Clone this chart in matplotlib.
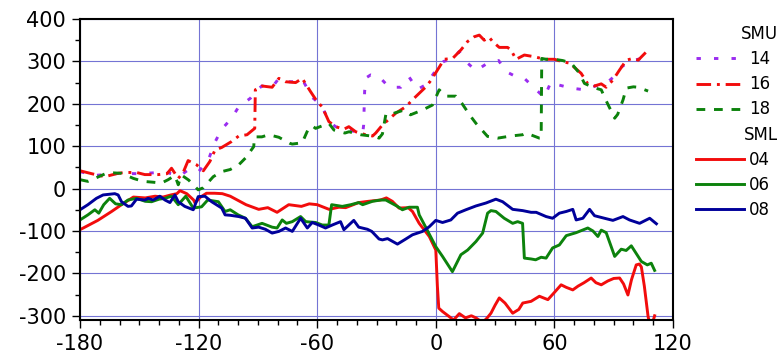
import matplotlib
matplotlib.use("Agg")
import matplotlib.pyplot as plt
from matplotlib.lines import Line2D
from matplotlib.ticker import MultipleLocator

plt.rcParams['font.family'] = ['DejaVu Sans']
plt.rcParams['axes.unicode_minus'] = False

# ---- data ----
# SMU 14 (purple dotted)
smu14_x = [-180, -172.5, -160, -150, -140, -136, -130, -128, -125, -120, -115, -112, -108.3, -103.3,
           -99.7, -93.8, -91, -88, -82.8, -79.4, -76, -72.6, -67.6, -62.5, -60, -57.5, -54, -50.7,
           -46.5, -40.5, -37, -36.5, -36, -35, -33, -30.5, -28.7, -23.6, -17.7, -13.5, -9.3, -5,
           -2.5, 0.8, 4, 8, 11.8, 16.1, 20.3, 26.2, 31.8, 35.5, 40.6, 44.8, 49.9, 54.9, 58.3, 62.5,
           68.5, 75.2, 82, 86.2, 89.6, 93, 98, 104, 106]
smu14_y = [40, 31, 36, 35, 38, 38, 30, 35, 45, 40, 68, 107, 140, 166,
           193, 213, 230, 242, 239, 260, 252, 252, 258, 215, 205, 193, 158, 146,
           140, 134, 130, 150, 230, 262, 268, 265, 264, 239, 239, 263, 234, 245,
           262, 284, 300, 305, 323, 296, 278, 296, 302, 276, 264, 260, 237, 215, 252, 244,
           237, 233, 244, 248, 262, 284, 300, 307, 315]

# SMU 16 (red dash-dot)
smu16_x = [-180, -174, -167.5, -160.7, -157.3, -151.4, -147.2, -140.4, -136, -133.7, -130.3, -127.8,
           -125.3, -121, -117.6, -114.3, -111.7, -108.3, -103.3, -99.7, -95.5, -91.6, -91.3, -87.9,
           -82.8, -79.4, -76, -70.9, -67.6, -63.4, -60, -57.5, -54.1, -50.7, -46.5, -44, -40.5,
           -35.5, -32, -30.4, -27, -20.2, -15.2, -11, -5, -2.5, 1.7, 4.2, 8.5, 12.7, 16.1, 19.4,
           22, 24.5, 27, 28.7, 32.1, 36.3, 38, 40.6, 44.8, 49.9, 55, 60, 64.2, 67.6, 69.3, 73.5,
           76.9, 80.3, 83.7, 86.2, 89.6, 93, 96.4, 99.8, 102.4, 106.2]
smu16_y = [42, 35, 28, 36, 38, 38, 33, 33, 35, 48, 24, 38,
           66, 56, 42, 64, 91, 97, 111, 124, 127, 142, 233, 242,
           239, 260, 252, 250, 260, 229, 205, 193, 158, 146, 140, 146, 134,
           127, 124, 131, 150, 178, 193, 213, 240, 255, 286, 305, 307, 327, 347, 358,
           362, 350, 357, 347, 333, 333, 327, 305, 315, 311, 305, 305, 299, 296, 289, 272,
           247, 242, 247, 239, 256, 280, 303, 307, 303, 321]

# SMU 18 (green dashed)
smu18_x = [-180, -176, -172, -166.7, -163, -159, -153, -148, -143, -138.8, -135.4, -132, -130.3,
           -128.7, -125, -122.7, -120.2, -117.6, -112.6, -108.3, -104, -99.7, -96.3, -92.1, -91.8,
           -88, -84.5, -79.4, -74, -72.6, -67.6, -64, -62, -60.8, -54.1, -51.5, -46, -43.9, -38,
           -31, -28.7, -27, -25.3, -23.6, -21, -16.2, -12.8, -6.9, -1.7, 1.7, 5.1, 10.1, 13.2,
           17.7, 20.3, 26.2, 31.3, 38, 43.9, 45.7, 52.4, 53.3, 53.6, 55.8, 60, 64.2, 68.5, 72.7,
           75.2, 80, 83.7, 86.2, 90.5, 92, 94.7, 96.4, 100, 102.3, 107.4]
smu18_y = [21, 17, 25, 36, 37, 36, 24, 17, 15, 13, 21, 31, 9,
           32, 20, 9, -3, 2, 28, 40, 45, 56, 72, 99, 122,
           122, 127, 121, 107, 105, 108, 146, 146, 142, 154, 138, 131, 134, 127,
           123, 119, 129, 174, 172, 178, 185, 174, 185, 197, 233, 218, 218, 201,
           170, 154, 123, 119, 124, 127, 131, 119, 119, 307, 305, 305, 302, 296, 272,
           248, 238, 233, 207, 166, 175, 209, 237, 240, 239, 230]

# SML 04 (red solid)
sml04_x = [-180, -171, -164, -159, -153, -147, -142, -138, -134, -131, -129.4, -126, -122.5, -121.8,
           -119, -116, -112, -108, -104, -100, -96, -89.6, -85, -80.3, -74.4, -68, -64, -60, -54,
           -49, -45.6, -39, -34, -28, -25, -22, -18.6, -14, -11.8, -8.4, -3.3, 0, 0.8, 1.5, 3.4,
           6.8, 9, 11.9, 15, 18, 20.3, 23.7, 26, 27.9, 30, 32.1, 35, 38.9, 42, 44, 48.2, 52.4,
           56.7, 60, 63.4, 66, 69.3, 72, 75, 78.6, 81, 83.7, 87, 90, 93, 95, 97.2, 99, 101.4,
           103, 104, 105.5, 107.4, 108.8, 110.7]
sml04_y = [-97, -75, -54, -38, -20, -22, -18, -20, -15, -12, -5, -12, -27, -34,
           -20, -11, -11, -12, -18, -28, -38, -49, -45, -56, -38, -42, -36, -38, -49,
           -44, -45, -33, -30, -27, -22, -30, -46, -45, -54, -82, -113, -145, -230, -282, -290,
           -302, -310, -295, -305, -300, -305, -316, -305, -294, -275, -258, -270, -294, -285, -270, -266, -254,
           -262, -245, -227, -233, -239, -230, -222, -211, -222, -227, -218, -212, -211, -225, -251, -215, -180,
           -178, -185, -230, -302, -330, -300]

# SML 06 (green solid)
sml06_x = [-180, -176, -172.5, -170.5, -168, -165, -162, -159, -155.7, -151.4, -147, -143.8, -140,
           -137, -133.7, -130.3, -126.5, -122.7, -118.5, -115.4, -110, -106.6, -104, -100, -96.3,
           -92.9, -87.9, -82.8, -80.3, -77.7, -75.6, -72.6, -68.4, -65.8, -60.8, -57.4, -54.1,
           -52.7, -47.3, -43, -39, -37, -32, -27.9, -25.3, -19.4, -16.9, -13.5, -9.3, -8.4, -4.9,
           0, 3.4, 8.4, 12.7, 16.1, 20.3, 23.7, 26.2, 27.9, 30.4, 34.6, 38.9, 41.4, 43.9, 44.8,
           48.2, 50.5, 53.3, 55.8, 59.1, 62.5, 66, 71, 76.9, 79.5, 82, 83.7, 86.2, 90.5, 93.8,
           96.3, 98.9, 104, 107, 109, 110.7]
sml06_y = [-74, -62, -50, -58, -38, -23, -36, -38, -27, -23, -30, -31, -25,
           -23, -18, -38, -18, -46, -43, -27, -31, -54, -50, -62, -70,
           -90, -82, -91, -93, -74, -82, -78, -66, -78, -80, -86, -86,
           -38, -42, -38, -33, -38, -30, -27, -27, -42, -50, -44, -44, -62, -93,
           -137, -160, -196, -156, -145, -125, -105, -58, -52, -54, -70, -82, -78, -82, -164,
           -166, -168, -162, -164, -140, -133, -111, -104, -93, -100, -113, -98, -104, -160, -143,
           -146, -135, -172, -180, -176, -193]

# SML 08 (blue solid)
sml08_x = [-180, -176, -171.7, -168.3, -162.4, -160.7, -159, -155.7, -154, -151.4, -147.2, -145.5,
           -143, -139.6, -137, -134.5, -132, -130.3, -127, -122.7, -120.2, -116.8, -113.4, -108.3,
           -106.6, -104, -99.7, -96.3, -92.9, -89.6, -86.2, -82.8, -79.4, -76, -72.6, -68.4, -65,
           -62.5, -59.2, -55.8, -52.4, -48.2, -46.5, -41.5, -39, -34.6, -32.4, -28.7, -27, -24.4,
           -19.4, -15.2, -11.8, -6.7, -3.3, 0, 3.4, 7.6, 11, 15.2, 20.3, 25.4, 30.4, 33.8, 38.9,
           44, 48.2, 50.8, 55.8, 59.1, 62.5, 66, 69.3, 71, 74.4, 77.8, 80.3, 85.3, 89.6, 94.7, 98,
           103.1, 108.2, 111.6]
sml08_y = [-50, -38, -23, -15, -12, -15, -31, -42, -41, -25, -27, -23,
           -27, -18, -27, -33, -15, -31, -42, -50, -19, -18, -31, -46,
           -62, -63, -66, -70, -93, -91, -96, -105, -101, -93, -101, -70, -93,
           -80, -86, -93, -86, -78, -97, -75, -91, -96, -101, -119, -121, -118,
           -131, -119, -109, -101, -90, -75, -80, -74, -58, -50, -41, -34, -25, -31, -49,
           -52, -56, -56, -66, -70, -58, -54, -49, -74, -70, -49, -64, -70, -75, -66, -74,
           -82, -70, -83]

x_ticks = [-180, -120, -60, 0, 60, 120]
y_ticks = [-300, -200, -100, 0, 100, 200, 300, 400]
smu_labels = ['14', '16', '18']
sml_labels = ['04', '06', '08']

# ---- figure ----
fig = plt.figure(figsize=(7.81, 3.53), dpi=100)
ax = fig.add_axes([80 / 781, 1 - 320 / 353, 593 / 781, 301 / 353])

c_purple = '#9a2cf0'
c_red = '#f20c0c'
c_green = '#0c820c'
c_blue = '#00009a'
lw = 2.1

l14, = ax.plot(smu14_x, smu14_y, color=c_purple, lw=lw, ls=(0, (1.5, 4.5)), dash_capstyle='butt')
l16, = ax.plot(smu16_x, smu16_y, color=c_red, lw=lw, ls=(0, (5, 2, 1, 2)))
l18, = ax.plot(smu18_x, smu18_y, color=c_green, lw=lw, ls=(0, (3, 3)))
l04, = ax.plot(sml04_x, sml04_y, color=c_red, lw=lw)
l06, = ax.plot(sml06_x, sml06_y, color=c_green, lw=lw)
l08, = ax.plot(sml08_x, sml08_y, color=c_blue, lw=lw)

ax.set_xlim(-180, 120)
ax.set_ylim(-310, 400)
ax.set_xticks(x_ticks)
ax.set_yticks(y_ticks)
ax.xaxis.set_minor_locator(MultipleLocator(10))
ax.yaxis.set_minor_locator(MultipleLocator(50))
ax.tick_params(which='major', direction='out', length=6, width=1, labelsize=15, pad=4)
ax.tick_params(which='minor', direction='out', length=3.5, width=1)
ax.grid(True, which='major', color='#7474d4', lw=0.8)
ax.set_axisbelow(True)
for sp in ax.spines.values():
    sp.set_linewidth(1.5)

# legend: header rows are blank, header text is drawn separately
blank = Line2D([], [], color='none')
handles = [blank, l14, l16, l18, blank, l04, l06, l08]
labels = [' '] + smu_labels + [' '] + sml_labels
leg = fig.legend(handles, labels, loc='upper left', bbox_to_anchor=(696 / 781, 1 - 25 / 353),
                 frameon=False, fontsize=12, handlelength=2.9, handletextpad=0.3,
                 borderpad=0, borderaxespad=0, labelspacing=0.43)

fig.canvas.draw()
texts = leg.get_texts()
inv = fig.transFigure.inverted()
for i, name in [(0, 'SMU'), (4, 'SML')]:
    bb = texts[i].get_window_extent()
    yc = inv.transform((0, (bb.y0 + bb.y1) / 2))[1]
    fig.text(778 / 781, yc, name, ha='right', va='center', fontsize=12)

fig.savefig('out.png', dpi=100)
